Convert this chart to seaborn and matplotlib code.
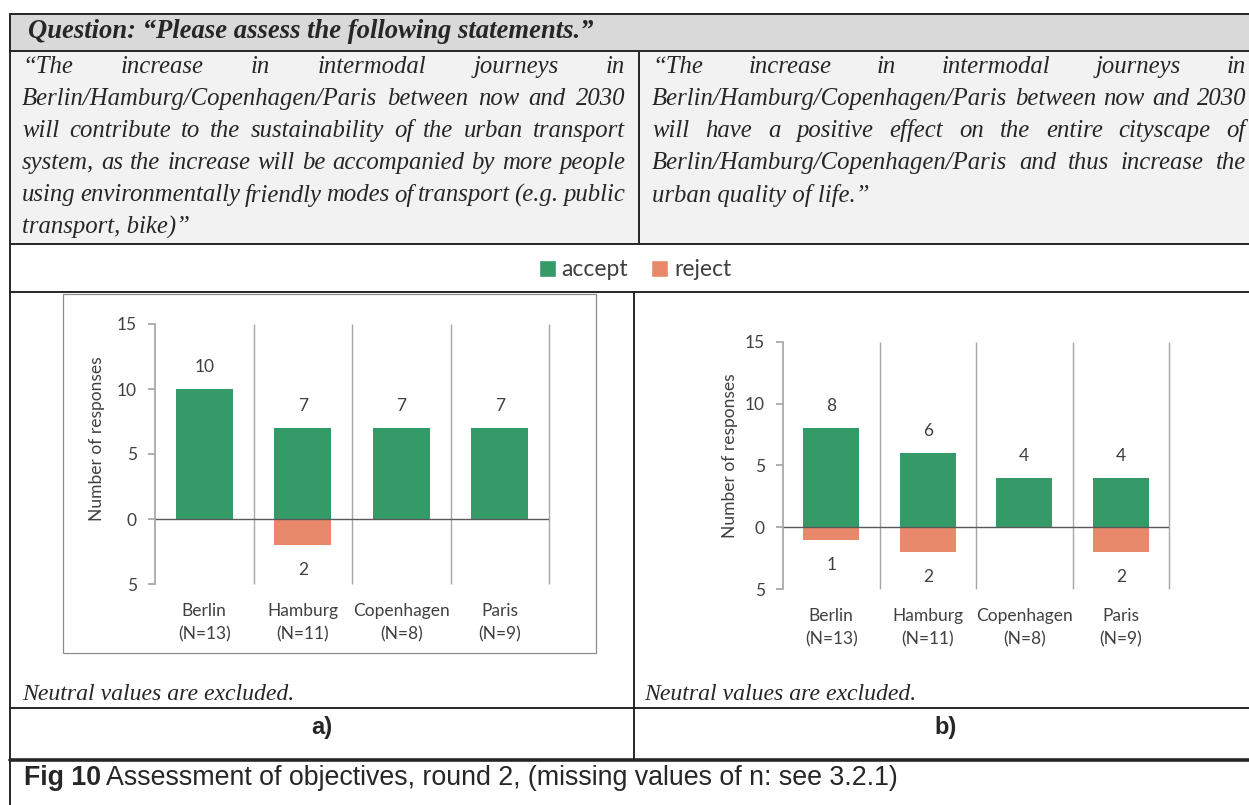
import matplotlib
matplotlib.use("Agg")
import matplotlib.pyplot as plt
import seaborn as sns
import pandas as pd
from matplotlib.patches import Rectangle, Patch
from matplotlib.ticker import FuncFormatter

# ==========================================
# data
# ==========================================
CITIES = ["Berlin", "Hamburg", "Copenhagen", "Paris"]
N_RESP = [13, 11, 8, 9]
ACCEPT_A = [10, 7, 7, 7]
REJECT_A = [0, 2, 0, 0]
ACCEPT_B = [8, 6, 4, 4]
REJECT_B = [1, 2, 0, 2]

QUESTION = "Question: \u201cPlease assess the following statements.\u201d"
STATEMENT_A = [
    "\u201cThe increase in intermodal journeys in",
    "Berlin/Hamburg/Copenhagen/Paris between now and 2030",
    "will contribute to the sustainability of the urban transport",
    "system, as the increase will be accompanied by more people",
    "using environmentally friendly modes of transport (e.g. public",
    "transport, bike)\u201d",
]
STATEMENT_B = [
    "\u201cThe increase in intermodal journeys in",
    "Berlin/Hamburg/Copenhagen/Paris between now and 2030",
    "will have a positive effect on the entire cityscape of",
    "Berlin/Hamburg/Copenhagen/Paris and thus increase the",
    "urban quality of life.\u201d",
]
NOTE = "Neutral values are excluded."
CAPTION_BOLD = "Fig 10"
CAPTION = "Assessment of objectives, round 2, (missing values of n: see 3.2.1)"

GREEN = "#349a68"
ORANGE = "#e8896b"
GRID = "#a6a6a6"
LINE = "#262626"
TXT = "#404040"
SERIF = ["Liberation Serif", "DejaVu Serif"]
SANS = ["Liberation Sans", "DejaVu Sans"]

W, H = 1249, 805

sns.set_theme(style="white")
plt.rcParams["font.family"] = ["Lato", "DejaVu Sans"]

fig = plt.figure(figsize=(W / 100, H / 100), dpi=100)
bg = fig.add_axes([0, 0, 1, 1], zorder=0)
bg.set_xlim(0, W)
bg.set_ylim(H, 0)
bg.axis("off")
renderer = fig.canvas.get_renderer()

# table background + lines
bg.add_patch(Rectangle((10, 14), W, 37, facecolor="#d9d9d9", edgecolor="none"))
bg.add_patch(Rectangle((10, 51), W, 193, facecolor="#f2f2f2", edgecolor="none"))
for y in [14, 51, 244, 292, 708]:
    bg.plot([10, W], [y, y], color=LINE, lw=1.4)
bg.plot([10, W], [760, 760], color=LINE, lw=2.6)
bg.plot([10, 10], [14, H], color=LINE, lw=1.4)
bg.plot([639, 639], [51, 244], color=LINE, lw=1.4)
bg.plot([634, 634], [292, 760], color=LINE, lw=1.4)
bg.add_patch(Rectangle((63, 294), 533, 359, facecolor="none", edgecolor="#8c8c8c", lw=0.9))


def fitted_size(text, target, base=15.0, **kw):
    # font size so that the text is about target px wide
    t = bg.text(0, 0, text, fontsize=base, **kw)
    w = t.get_window_extent(renderer).width
    t.remove()
    return base * target / w


q_size = fitted_size(QUESTION, 568, family=SERIF, style="italic", weight="bold")
bg.text(28, 32, QUESTION, family=SERIF, style="italic", weight="bold",
        fontsize=q_size, va="center", ha="left")


def justify(lines, x0, x1, y0, step, size):
    for i, line in enumerate(lines):
        y = y0 + i * step
        if i == len(lines) - 1:
            bg.text(x0, y, line, family=SERIF, style="italic", fontsize=size, va="center")
            continue
        words = line.split()
        arts = [bg.text(0, y, w, family=SERIF, style="italic", fontsize=size, va="center")
                for w in words]
        widths = [a.get_window_extent(renderer).width for a in arts]
        gap = (x1 - x0 - sum(widths)) / (len(words) - 1)
        x = x0
        for a, w in zip(arts, widths):
            a.set_x(x)
            x += w + gap


st_size = fitted_size(STATEMENT_A[1], 592, family=SERIF, style="italic")
justify(STATEMENT_A, 22, 625, 67, 32, st_size)
justify(STATEMENT_B, 652, 1246, 67, 32, st_size)

n_size = fitted_size(NOTE, 273, family=SERIF, style="italic")
bg.text(22, 694, NOTE, family=SERIF, style="italic", fontsize=n_size, va="center")
bg.text(644, 694, NOTE, family=SERIF, style="italic", fontsize=n_size, va="center")
bg.text(322, 727, "a)", family=SANS, weight="bold", fontsize=17, va="center", ha="center")
bg.text(946, 727, "b)", family=SANS, weight="bold", fontsize=17, va="center", ha="center")

c_size = fitted_size(CAPTION_BOLD + " " + CAPTION, 873, family=SANS)
t = bg.text(24, 778, CAPTION_BOLD, family=SANS, weight="bold", fontsize=c_size, va="center")
cw = t.get_window_extent(renderer).width
bg.text(24 + cw + 5, 778, CAPTION, family=SANS, fontsize=c_size, va="center")

# legend
handles = [Patch(facecolor=GREEN, label="accept"), Patch(facecolor=ORANGE, label="reject")]
fig.legend(handles=handles, loc="center", bbox_to_anchor=(635 / W, 1 - 270 / H), ncol=2,
           frameon=False, fontsize=16.5, handlelength=0.75, handleheight=0.75,
           handletextpad=0.25, columnspacing=1.0, labelcolor=TXT)


def draw_panel(ax, accept, reject, label_pos):
    df = pd.DataFrame({
        "city": [f"{c}\n(N={n})" for c, n in zip(CITIES, N_RESP)],
        "accept": accept,
        "reject": [-r for r in reject],
    })
    sns.barplot(data=df, x="city", y="accept", color=GREEN, width=0.58,
                saturation=1, linewidth=0, ax=ax)
    sns.barplot(data=df, x="city", y="reject", color=ORANGE, width=0.58,
                saturation=1, linewidth=0, ax=ax)
    ax.set_facecolor("none")
    ax.set_xlim(-0.5, 3.5)
    ax.set_ylim(-5, 15)
    ax.set_yticks([-5, 0, 5, 10, 15])
    ax.yaxis.set_major_formatter(FuncFormatter(lambda v, p: f"{abs(int(v))}"))
    ax.vlines([0.5, 1.5, 2.5, 3.5], -5, 15, color=GRID, lw=1, clip_on=False)
    ax.axhline(0, color="#595959", lw=1)
    for s in ["top", "right", "bottom"]:
        ax.spines[s].set_visible(False)
    ax.spines["left"].set_color(GRID)
    ax.tick_params(axis="y", left=True, length=5, color=GRID, labelsize=12.5,
                   labelcolor=TXT, pad=8)
    ax.tick_params(axis="x", length=0, labelsize=12.5, labelcolor=TXT, pad=14)
    for lab in ax.get_xticklabels():
        lab.set_linespacing(1.5)
    ax.set_xlabel("")
    ax.set_ylabel("Number of responses", fontsize=12.5, color=TXT)
    ax.yaxis.set_label_coords(*label_pos)
    for i, (a, r) in enumerate(zip(accept, reject)):
        if a:
            ax.annotate(str(a), (i, a), xytext=(0, 16), textcoords="offset points",
                        ha="center", va="center", fontsize=12.5, color=TXT)
        if r:
            ax.annotate(str(r), (i, -r), xytext=(0, -18), textcoords="offset points",
                        ha="center", va="center", fontsize=12.5, color=TXT)


ax_a = fig.add_axes([155 / W, 1 - 584 / H, 394 / W, 260 / H], zorder=2)
draw_panel(ax_a, ACCEPT_A, REJECT_A, (-0.127, 0.56))
ax_b = fig.add_axes([783 / W, 1 - 589 / H, 386 / W, 247 / H], zorder=2)
draw_panel(ax_b, ACCEPT_B, REJECT_B, (-0.117, 0.54))

fig.savefig("out.png", dpi=100)
